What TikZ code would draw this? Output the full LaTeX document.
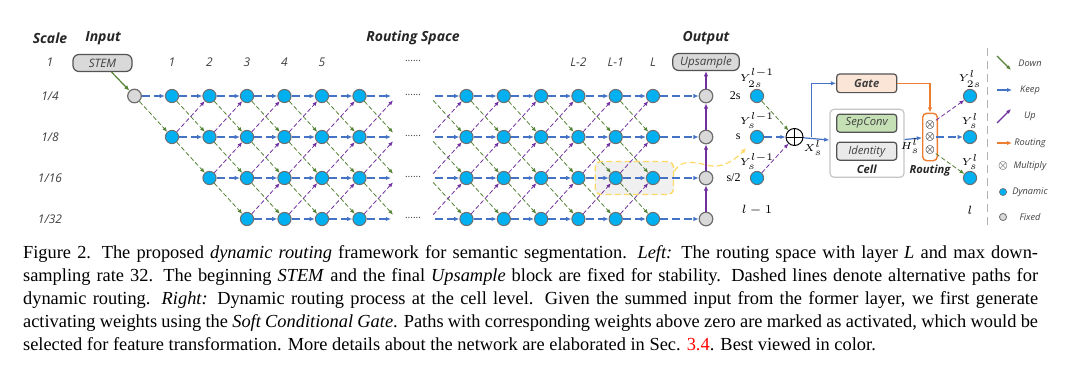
\documentclass[tikz,border=0pt]{standalone}
\usepackage{fontspec}
\setmainfont{Liberation Serif}
\setsansfont{Open Sans}
\usepackage{xcolor}
\usepackage{tikz}
\usetikzlibrary{arrows.meta,positioning,calc,fit,backgrounds}
\definecolor{dynblue}{RGB}{0,176,240}
\definecolor{keepblue}{RGB}{68,114,196}
\definecolor{downgreen}{RGB}{84,130,53}
\definecolor{uppurple}{RGB}{112,48,160}
\definecolor{routeorange}{RGB}{237,125,49}
\definecolor{hlyellow}{RGB}{255,217,102}
\definecolor{fixgray}{RGB}{217,217,217}
\definecolor{rimgray}{RGB}{110,110,110}
\definecolor{darkgray}{RGB}{64,64,64}
\definecolor{gatefill}{RGB}{251,229,214}
\definecolor{convfill}{RGB}{197,224,180}
\definecolor{idfill}{RGB}{234,234,234}
\tikzset{
  dyn/.style={circle,fill=dynblue,draw=rimgray,line width=0.5pt,minimum size=6.6pt,inner sep=0pt},
  fixed/.style={circle,fill=fixgray,draw=rimgray,line width=0.6pt,minimum size=6.8pt,inner sep=0pt},
  keeparr/.style={-{Latex[length=2.6pt,width=2.2pt]},line width=0.6pt,draw=keepblue,dash pattern=on 4pt off 2pt},
  downarr/.style={-{Latex[length=2.3pt,width=2pt]},line width=0.4pt,draw=downgreen,dash pattern=on 2.2pt off 1.2pt},
  uparr/.style={-{Latex[length=2.3pt,width=2pt]},line width=0.4pt,draw=uppurple,dash pattern=on 2.2pt off 1.2pt},
  solidup/.style={-{Latex[length=2.6pt,width=2.2pt]},line width=0.6pt,draw=uppurple},
  flow/.style={-{Latex[length=2.6pt,width=2.2pt]},line width=0.6pt,draw=keepblue},
  routearr/.style={-{Latex[length=2.6pt,width=2.2pt]},line width=0.6pt,draw=routeorange},
  hlarr/.style={-{Latex[length=2.6pt,width=2.4pt]},line width=0.6pt,draw=hlyellow,dash pattern=on 3pt off 1.6pt},
  fixbox/.style={rectangle,rounded corners=3pt,fill=fixgray,draw=darkgray!90,line width=0.6pt,inner sep=0pt,
    minimum height=8.5pt,font=\sffamily\itshape\fontsize{5.8}{7}\selectfont,text=darkgray},
  opbox/.style={rectangle,rounded corners=1.5pt,draw=darkgray!90,line width=0.6pt,minimum width=30pt,
    minimum height=9pt,inner sep=0pt,font=\sffamily\itshape\fontsize{5.6}{7}\selectfont,text=darkgray},
  sflab/.style={font=\sffamily\itshape\fontsize{6}{7}\selectfont,text=darkgray},
  sfbold/.style={font=\sffamily\bfseries\itshape\fontsize{7}{8}\selectfont,text=black!85},
  mathlab/.style={font=\fontsize{6}{7}\selectfont,inner sep=0.5pt},
  ylab/.style={font=\fontsize{5.4}{6}\selectfont,inner sep=0.3pt},
  legtext/.style={font=\sffamily\itshape\fontsize{4.6}{6}\selectfont,text=darkgray}
}

\begin{document}
\begin{tikzpicture}[x=0.5pt,y=-0.5pt,
  hlbox/.style={rectangle,rounded corners=3pt,fill=gray!12,draw=hlyellow,line width=0.7pt,
    dash pattern=on 3pt off 1.6pt,inner xsep=6.7pt,inner ysep=4.7pt},
  dots/.style={font=\sffamily\fontsize{5}{6}\selectfont,text=darkgray},
  sepline/.style={draw=gray!60,line width=0.6pt,dash pattern=on 4pt off 2.5pt}
]
\useasboundingbox (0,0) rectangle (1080,375);

% ---------- left: routing space ----------
\node[sfbold] (hscale) at (50,38) {Scale};
\node[sfbold] (hinput) at (103,38) {Input};
\node[sfbold] (hspace) at (413,38) {Routing Space};
\node[sfbold] (hout)   at (706,38) {Output};

\foreach \y/\lab [count=\i] in {62/1,96/{1/4},137/{1/8},178/{1/16},219/{1/32}}{
  \node[sflab] (sc-\i) at (50,\y) {\lab};
}

\node[fixbox,minimum width=29.5pt] (stem) at (102.5,63) {STEM};
\node[fixbox,minimum width=33.3pt] (ups)  at (706,62) {Upsample};

% first block of cells
\node[fixed] (a-0-1) at (134.5,96) {};
\foreach \c in {1,...,6}{
  \foreach \r in {1,...,4}{
    \pgfmathtruncatemacro{\ok}{\c>\r-2}
    \ifnum\ok=1
      \node[dyn] (a-\c-\r) at ({134.5+37.5*\c},{96+41*(\r-1)}) {};
    \fi
  }
}
\foreach \c in {1,...,5}{
  \node[sflab] (cl-\c) at ({134.5+37.5*\c},62) {\c};
}

% second block of cells
\foreach \k in {0,...,5}{
  \foreach \r in {1,...,4}{
    \node[dyn] (b-\k-\r) at ({466.5+37.3*\k},{96+41*(\r-1)}) {};
  }
}
\node[sflab] (cl-L2) at (b-3-1 |- ups) {L-2};
\node[sflab] (cl-L1) at (b-4-1 |- ups) {L-1};
\node[sflab] (cl-L)  at (b-5-1 |- ups) {L};

% fixed output column
\foreach \r in {1,...,4}{
  \node[fixed] (o-\r) at (706,{96+41*(\r-1)}) {};
  \coordinate (v7-\r) at (397,{96+41*(\r-1)});
  \coordinate (u-\r)  at (429.2,{96+41*(\r-1)});
  \node[dots] (dt-\r) at (413,{95+41*(\r-1)}) {......};
}
\node[dots] (dt-0) at (413,61) {......};

\draw[downgreen,line width=0.6pt,-{Latex[length=2.6pt,width=2.2pt]}] (stem.-45) -- (a-0-1);
\draw[keeparr] (a-0-1) -- (a-1-1);
\draw[downarr] (a-0-1) -- (a-1-2);

\foreach \c in {1,...,5}{
  \pgfmathtruncatemacro{\n}{\c+1}
  \foreach \r in {1,...,4}{
    \pgfmathtruncatemacro{\ok}{\c>\r-2}
    \pgfmathtruncatemacro{\dn}{\r+1}
    \pgfmathtruncatemacro{\up}{\r-1}
    \ifnum\ok=1
      \draw[keeparr] (a-\c-\r) -- (a-\n-\r);
      \ifnum\r<4 \draw[downarr] (a-\c-\r) -- (a-\n-\dn); \fi
      \ifnum\r>1 \draw[uparr] (a-\c-\r) -- (a-\n-\up); \fi
    \fi
  }
}

% open ends round the gap
\foreach \r in {1,...,4}{
  \pgfmathtruncatemacro{\dn}{\r+1}
  \pgfmathtruncatemacro{\up}{\r-1}
  \draw[keeparr,shorten >=3pt] (a-6-\r) -- (v7-\r);
  \draw[keeparr,shorten <=3pt] (u-\r) -- (b-0-\r);
  \ifnum\r<4
    \draw[downarr,shorten >=3pt] (a-6-\r) -- (v7-\dn);
    \draw[downarr,shorten <=3pt] (u-\r) -- (b-0-\dn);
  \fi
  \ifnum\r>1
    \draw[uparr,shorten >=3pt] (a-6-\r) -- (v7-\up);
    \draw[uparr,shorten <=3pt] (u-\r) -- (b-0-\up);
  \fi
}

\foreach \k in {0,...,4}{
  \pgfmathtruncatemacro{\n}{\k+1}
  \foreach \r in {1,...,4}{
    \pgfmathtruncatemacro{\dn}{\r+1}
    \pgfmathtruncatemacro{\up}{\r-1}
    \draw[keeparr] (b-\k-\r) -- (b-\n-\r);
    \ifnum\r<4 \draw[downarr] (b-\k-\r) -- (b-\n-\dn); \fi
    \ifnum\r>1 \draw[uparr] (b-\k-\r) -- (b-\n-\up); \fi
  }
}

\foreach \r in {1,...,4}{
  \draw[keeparr] (b-5-\r) -- (o-\r);
}
\draw[solidup] (o-4) -- (o-3);
\draw[solidup] (o-3) -- (o-2);
\draw[solidup] (o-2) -- (o-1);
\draw[solidup] (o-1) -- (ups);

% highlighted cell
\begin{scope}[on background layer]
  \node[hlbox,fit=(b-4-3)(b-5-3)] (hl) {};
\end{scope}

% ---------- right: one cell ----------
\foreach \r/\lab/\sub in {1/2s/2s,2/s/s,3/s\slash 2/s/2}{
  \node[dyn] (yi-\r) at (757,{96+41*(\r-1)}) {};
  \node[dyn] (yo-\r) at (970,{96+41*(\r-1)}) {};
  \node[mathlab,left=4pt of yi-\r] (sl-\r) {\lab};
  \node[ylab,above=0.3pt of yi-\r] (yil-\r) {$Y^{l-1}_{\sub}$};
  \node[ylab,above=0.3pt of yo-\r] (yol-\r) {$Y^{l}_{\sub}$};
}
\node[mathlab] (lprev) at (757,210) {$l-1$};
\node[mathlab] (lcur)  at (970,210) {$l$};

\coordinate (hs) at ($(hl.north east)!0.3!(hl.south east)$);
\coordinate (he) at (746,148);
\draw[hlarr] (hs) .. controls (681,162) and (686,162.5) .. (692,162.5)
  .. controls (702,162.5) and (708,167) .. (717,166)
  .. controls (728,165) and (738,157) .. (he);

\node[circle,draw=black,line width=0.5pt,minimum size=8.5pt,inner sep=0pt,fill=white] (sum) at (794.5,137) {};
\draw[line width=0.5pt] (sum.north) -- (sum.south) (sum.west) -- (sum.east);

\draw[downarr] (yi-1) -- (sum);
\draw[keeparr] (yi-2) -- (sum);
\draw[uparr]   (yi-3) -- (sum);

\node[opbox,fill=gatefill,font=\sffamily\bfseries\itshape\fontsize{5.6}{7}\selectfont,minimum height=9.3pt] (gate) at (866.7,83.3) {Gate};
\node[rectangle,rounded corners=2pt,draw=gray!45,line width=0.6pt,fill=white,
  minimum width=37pt,minimum height=34pt] (cell) at (867,143.3) {};
\node[opbox,fill=convfill] (sep) at (866.7,123.2) {SepConv};
\node[opbox,fill=idfill]   (idn) at (866.7,151.2) {Identity};
\node[sflab,font=\sffamily\bfseries\itshape\fontsize{5.6}{7}\selectfont,text=black!85] (celllab) at (866.7,169.3) {Cell};

\node[rectangle,rounded corners=2pt,draw=routeorange,line width=0.7pt,fill=white,
  minimum width=7.3pt,minimum height=23.7pt,inner sep=0pt] (rt) at (930,137) {};
\foreach \r/\y in {1/124.5,2/137,3/149.5}{
  \node[inner sep=0pt,font=\fontsize{5.5}{6}\selectfont] (m-\r) at (930,\y) {$\otimes$};
}
\node[sflab,font=\sffamily\bfseries\itshape\fontsize{5.6}{7}\selectfont,text=black!85] (rtlab) at (930,170.5) {Routing};

\coordinate (br) at (811.7,137);
\draw[flow] (sum) -- (cell);
\draw[flow] (br) |- (gate);
\draw[routearr] (gate) -| (rt);
\draw[flow] (cell) -- (rt);
\node[ylab] (xlab) at (813,148) {$X^{l}_{s}$};
\node[ylab] (hlab) at (910,146) {$H^{l}_{s}$};

\draw[uparr]   (m-1) -- (yo-1);
\draw[keeparr] (m-2) -- (yo-2);
\draw[downarr] (m-3) -- (yo-3);

% ---------- legend ----------
\coordinate (sp-t) at (987.7,48);
\coordinate (sp-b) at (987.7,229);
\draw[sepline] (sp-t) -- (sp-b);

\coordinate (lg-d1) at (997,56);   \coordinate (lg-d2) at (1011,70);
\coordinate (lg-k1) at (997,90);   \coordinate (lg-k2) at (1012,90);
\coordinate (lg-u1) at (997,123);  \coordinate (lg-u2) at (1011,109);
\coordinate (lg-r1) at (997,143);  \coordinate (lg-r2) at (1012,143);
\draw[downgreen,line width=0.6pt,-{Latex[length=2.4pt,width=2pt]}] (lg-d1) -- (lg-d2);
\draw[keepblue,line width=0.6pt,-{Latex[length=2.4pt,width=2pt]}] (lg-k1) -- (lg-k2);
\draw[uppurple,line width=0.6pt,-{Latex[length=2.4pt,width=2pt]}] (lg-u1) -- (lg-u2);
\draw[routeorange,line width=0.6pt,-{Latex[length=2.4pt,width=2pt]}] (lg-r1) -- (lg-r2);
\node[inner sep=0pt,font=\fontsize{5}{6}\selectfont,text=darkgray] (lg-m) at (1003,166) {$\otimes$};
\node[circle,fill=dynblue,draw=rimgray,line width=0.3pt,minimum size=3.6pt,inner sep=0pt] (lg-dy) at (1003,192) {};
\node[circle,fill=fixgray,draw=rimgray,line width=0.4pt,minimum size=3.6pt,inner sep=0pt] (lg-fx) at (1003,217) {};

\foreach \y/\txt in {63/Down,90/Keep,116/Up,143/Routing,166/Multiply,192/Dynamic,217/Fixed}{
  \node[legtext] (lt-\txt) at (1030,\y) {\txt};
}

% ---------- caption ----------
\node[anchor=north west,inner sep=0pt,text width=507.5pt,align=justify,
  font=\fontsize{9.2}{11.45}\selectfont] (caption) at (22.7,245.5)
  {Figure 2. The proposed \textit{dynamic routing} framework for semantic segmentation. \textit{Left:} The routing space with layer \textit{L} and max down-\linebreak
   sampling rate 32. The beginning \textit{STEM} and the final \textit{Upsample} block are fixed for stability. Dashed lines denote alternative paths for\linebreak
   dynamic routing. \textit{Right:} Dynamic routing process at the cell level. Given the summed input from the former layer, we first generate\linebreak
   activating weights using the \textit{Soft Conditional Gate}. Paths with corresponding weights above zero are marked as activated, which would be\linebreak
   selected for feature transformation. More details about the network are elaborated in Sec. \textcolor{red}{3.4}. Best viewed in color.};

\end{tikzpicture}
\end{document}
